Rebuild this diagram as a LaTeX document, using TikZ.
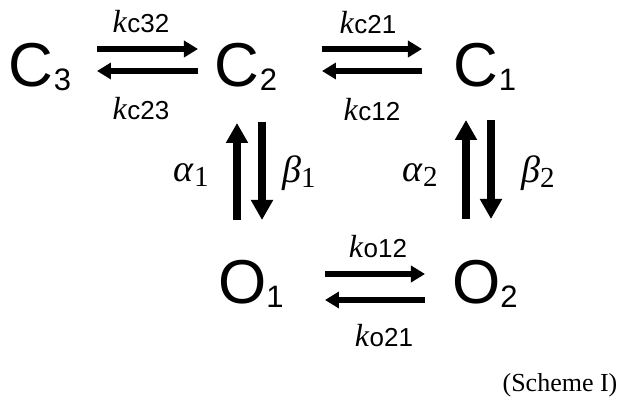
\documentclass[tikz,border=0pt]{standalone}
\usepackage{fontspec}
\setmainfont{Liberation Serif}
\setsansfont{Liberation Sans}
\usetikzlibrary{arrows.meta}
\tikzstyle{state}=[inner sep=0pt, anchor=base, font=\sffamily\fontsize{31}{31}\selectfont]
\tikzstyle{rate}=[inner sep=0pt, anchor=base]
\tikzstyle{harrow}=[line width=3pt, -{Triangle[length=7pt,width=8pt]}]
\tikzstyle{varrow}=[line width=4pt, -{Triangle[length=10pt,width=10.5pt]}]
\newcommand{\species}[2]{#1\raisebox{-2pt}{\fontsize{15.5}{15.5}\selectfont #2}}
\newcommand{\krate}[2]{{\fontsize{16}{16}\selectfont\textit{#1}}{\sffamily\fontsize{13}{13}\selectfont #2}}
\newcommand{\gkrate}[2]{{\fontsize{19}{19}\selectfont\textit{#1}}\raisebox{-2.5pt}{\fontsize{14.5}{14.5}\selectfont #2}}

\begin{document}
\begin{tikzpicture}[x=0.5pt,y=-0.5pt]
				\useasboundingbox (0,0) rectangle (634,401);
				% states
				\node[state] (c3) at (40,87) {\species{C}{3}};
				\node[state] (c2) at (246,87) {\species{C}{2}};
				\node[state] (c1) at (485,87) {\species{C}{1}};
				\node[state] (o1) at (251,304) {\species{O}{1}};
				\node[state] (o2) at (485,304) {\species{O}{2}};
				% rate constants
				\node[rate] (kc32) at (141,33) {\krate{k}{c32}};
				\node[rate] (kc23) at (141,120) {\krate{k}{c23}};
				\node[rate] (kc21) at (368,34) {\krate{k}{c21}};
				\node[rate] (kc12) at (372,121) {\krate{k}{c12}};
				\node[rate] (ko12) at (378,258) {\krate{k}{o12}};
				\node[rate] (ko21) at (384,347) {\krate{k}{o21}};
				\node[rate] (a1) at (191,182) {\gkrate{α}{1}};
				\node[rate] (b1) at (299,183) {\gkrate{β}{1}};
				\node[rate] (a2) at (420,182) {\gkrate{α}{2}};
				\node[rate] (b2) at (538,183) {\gkrate{β}{2}};
				% transitions
				\draw[harrow] ([shift={(57,-38)}]c3.base) -- ([shift={(-48,-38)}]c2.base);
				\draw[harrow] ([shift={(-48,-16)}]c2.base) -- ([shift={(57,-16)}]c3.base);
				\draw[harrow] ([shift={(76,-38)}]c2.base) -- ([shift={(-63,-38)}]c1.base);
				\draw[harrow] ([shift={(-63,-16)}]c1.base) -- ([shift={(76,-16)}]c2.base);
				\draw[harrow] ([shift={(74,-30)}]o1.base) -- ([shift={(-60,-30)}]o2.base);
				\draw[harrow] ([shift={(-60,-4)}]o2.base) -- ([shift={(74,-4)}]o1.base);
				\draw[varrow] ([shift={(-14,-84)}]o1.base) -- ([shift={(-9,36)}]c2.base);
				\draw[varrow] ([shift={(16,35)}]c2.base) -- ([shift={(11,-84)}]o1.base);
				\draw[varrow] ([shift={(-19,-85)}]o2.base) -- ([shift={(-19,33)}]c1.base);
				\draw[varrow] ([shift={(6,33)}]c1.base) -- ([shift={(6,-85)}]o2.base);
				\node[rate, font=\fontsize{13}{13}\selectfont] (cap) at (560,392) {(Scheme I)};
			\end{tikzpicture}
\end{document}
